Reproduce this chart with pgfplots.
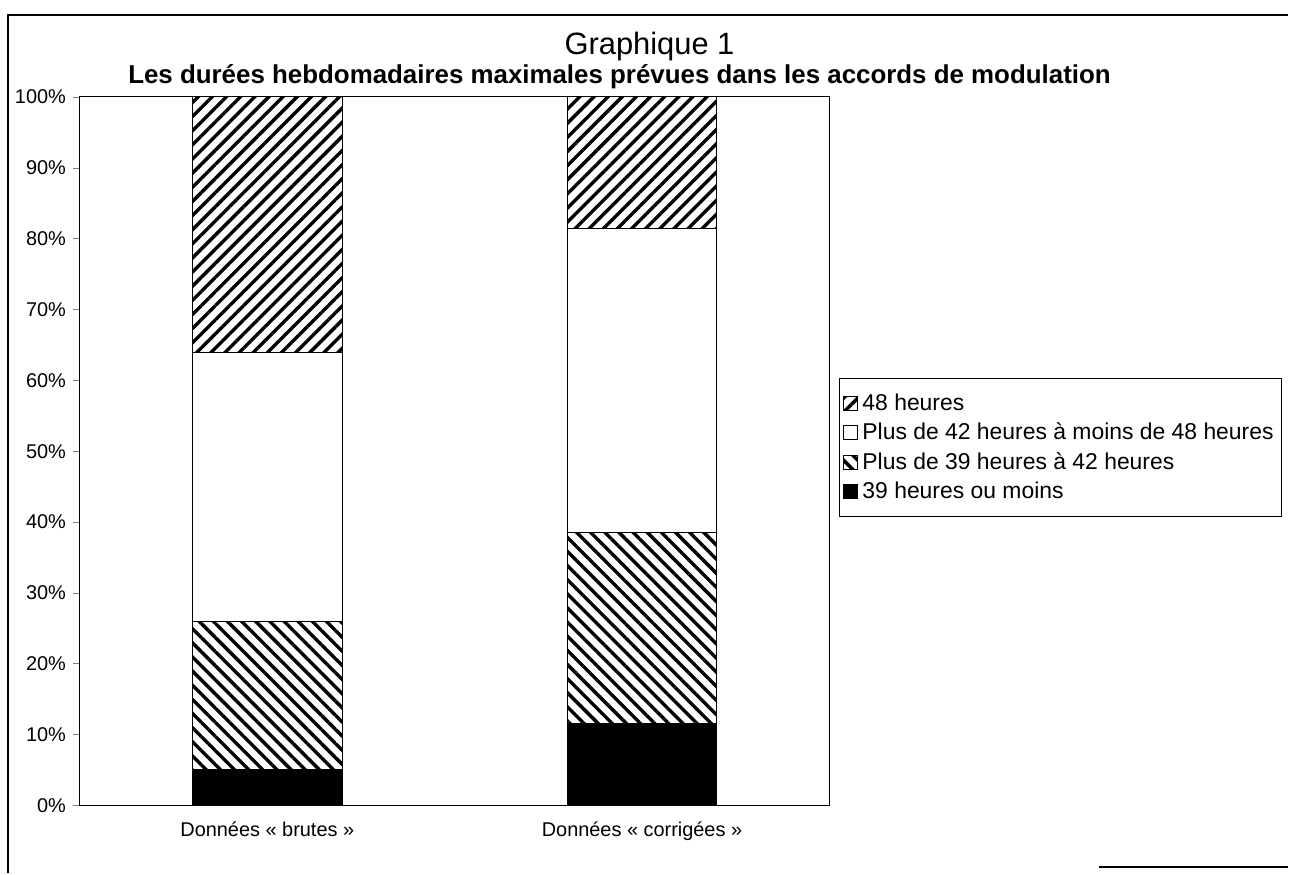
\documentclass[border=0pt]{standalone}
\usepackage{pgfplots}
\pgfplotsset{compat=1.18}
\usepackage{fontspec}
\setmainfont{Liberation Sans}
\usetikzlibrary{patterns.meta}
\begin{document}
\begin{tikzpicture}
\begin{axis}[
  at={(0,0)}, anchor=south west,
  scale only axis, width=375bp, height=354.5bp,
  ybar stacked, bar width=0.4,
  xmin=-0.5, xmax=1.5, ymin=0, ymax=100,
  xtick={0,1}, xticklabels={Données « brutes », Données « corrigées »},
  x tick style={draw=none},
  extra x ticks={-0.5,0.5,1.5}, extra x tick labels={},
  extra x tick style={tick align=outside, major tick length=3bp, tick style={draw=black}},
  ytick={0,10,...,100},
  yticklabel={\pgfmathprintnumber{\tick}\%},
  ytick pos=left, xtick pos=bottom,
  /pgf/number format/assume math mode=true,
  tick align=outside, major tick length=3.5bp,
  tick label style={font=\fontsize{10}{11}\selectfont},
  xticklabel style={font=\fontsize{10}{11}\selectfont, yshift=-1bp},
  axis line style={black, line width=0.5bp},
  legend style={at={(1.013,0.603)}, anchor=north west, draw=black, line width=0.4bp,
    font=\fontsize{11.5}{13}\selectfont, row sep=0.9bp, inner xsep=2bp, inner ysep=5.5bp},
  legend cell align=left,
  reverse legend,
  legend image code/.code={\draw[#1, line width=0.5bp] (0bp,-3.5bp) rectangle (7bp,3.5bp);},
]
\addplot[fill=black, draw=black, line width=0.5bp] coordinates {(0,5.0) (1,11.6)};
\addlegendentry{39 heures ou moins}
\addplot[pattern={Lines[angle=-45,distance=5bp,line width=1.7bp]}, draw=black, line width=0.5bp] coordinates {(0,20.9) (1,26.9)};
\addlegendentry{Plus de 39 heures à 42 heures}
\addplot[fill=white, draw=black, line width=0.5bp] coordinates {(0,38.0) (1,42.9)};
\addlegendentry{Plus de 42 heures à moins de 48 heures}
\addplot[pattern={Lines[angle=45,distance=5bp,line width=1.7bp]}, draw=black, line width=0.5bp] coordinates {(0,36.1) (1,18.6)};
\addlegendentry{48 heures}
\end{axis}
\node[font=\fontsize{15.5}{17}\selectfont] at (285bp,379.5bp) {Graphique 1};
\node[font=\bfseries\fontsize{13}{15}\selectfont] at (270bp,364.5bp) {Les durées hebdomadaires maximales prévues dans les accords de modulation};
\draw[line width=1bp] (-36bp,-34bp) -- (-36bp,395.5bp) -- (604.5bp,395.5bp);
\draw[line width=1bp] (510bp,-31bp) -- (604.5bp,-31bp);
\useasboundingbox (-40bp,-34bp) rectangle (604.5bp,403bp);
\end{tikzpicture}
\end{document}
